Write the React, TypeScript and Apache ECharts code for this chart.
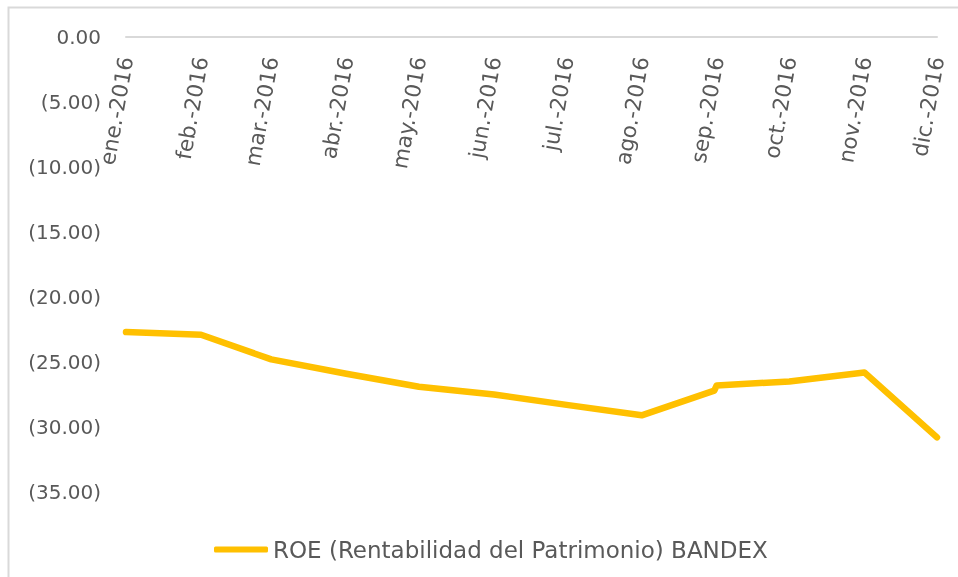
import React, { useEffect, useRef } from "react";
import * as echarts from "echarts";

const monthNames = ["ene.", "feb.", "mar.", "abr.", "may.", "jun.", "jul.", "ago.", "sep.", "oct.", "nov.", "dic."];
const dates = [
  "2016-01-01", "2016-02-01", "2016-03-01", "2016-04-01", "2016-05-01", "2016-06-01",
  "2016-07-01", "2016-08-01", "2016-08-31", "2016-09-01", "2016-10-01", "2016-11-01", "2016-12-01",
];
const roeValues = [-22.7, -22.9, -24.8, -25.9, -26.9, -27.5, -28.3, -29.1, -27.2, -26.8, -26.5, -25.8, -30.8];
const seriesName = "ROE (Rentabilidad del Patrimonio) BANDEX";
const yTicks = { min: -35, max: 0, interval: 5 };

function toTs(s: string) {
  const [y, m, d] = s.split("-").map(Number);
  return new Date(y, m - 1, d).getTime();
}

export default function App() {
  const ref = useRef<HTMLDivElement>(null);
  useEffect(() => {
    if (!ref.current) return;
    const chart = echarts.init(ref.current, null, { renderer: "svg" });
    const font = "'DejaVu Sans', sans-serif";
    chart.setOption({
      animation: false,
      textStyle: { fontFamily: font },
      graphic: [
        {
          type: "rect",
          shape: { x: 8.5, y: 7.5, width: 970, height: 590 },
          style: { fill: "none", stroke: "#d9d9d9", lineWidth: 2 },
          silent: true,
        },
      ],
      grid: { left: 126, right: 21, top: 37, bottom: 85, containLabel: false },
      xAxis: {
        type: "time",
        position: "top",
        min: toTs(dates[0]),
        max: toTs(dates[dates.length - 1]),
        splitNumber: 11,
        minInterval: 28 * 86400000,
        maxInterval: 31 * 86400000,
        axisLine: { show: true, lineStyle: { color: "#d9d9d9", width: 2 } },
        axisTick: { show: false },
        splitLine: { show: false },
        axisLabel: {
          inside: true,
          rotate: 80,
          margin: 20,
          color: "#595959",
          fontSize: 21.5,
          fontFamily: font,
          hideOverlap: false,
          showMinLabel: true,
          showMaxLabel: true,
          formatter: (v: number) => {
            const d = new Date(v);
            return monthNames[d.getMonth()] + "-" + d.getFullYear();
          },
        },
      },
      yAxis: {
        type: "value",
        min: yTicks.min,
        max: yTicks.max,
        interval: yTicks.interval,
        axisLine: { show: false },
        axisTick: { show: false },
        splitLine: { show: false },
        axisLabel: {
          color: "#595959",
          fontSize: 20,
          fontFamily: font,
          margin: 25,
          formatter: (v: number) => (v === 0 ? "0.00" : "(" + Math.abs(v).toFixed(2) + ")"),
        },
      },
      legend: {
        left: 209,
        top: 533,
        icon: "roundRect",
        itemWidth: 54,
        itemHeight: 6,
        itemGap: 10,
        textStyle: { color: "#595959", fontSize: 23, fontFamily: font },
        data: [seriesName],
      },
      series: [
        {
          name: seriesName,
          type: "line",
          symbol: "none",
          data: dates.map((d, i) => [toTs(d), roeValues[i]]),
          lineStyle: { color: "#FFC000", width: 6.5, cap: "round", join: "round" },
          itemStyle: { color: "#FFC000" },
        },
      ],
    });
    return () => chart.dispose();
  }, []);
  return <div ref={ref} style={{ position: "fixed", left: 0, top: 0, width: 958, height: 577 }} />;
}
